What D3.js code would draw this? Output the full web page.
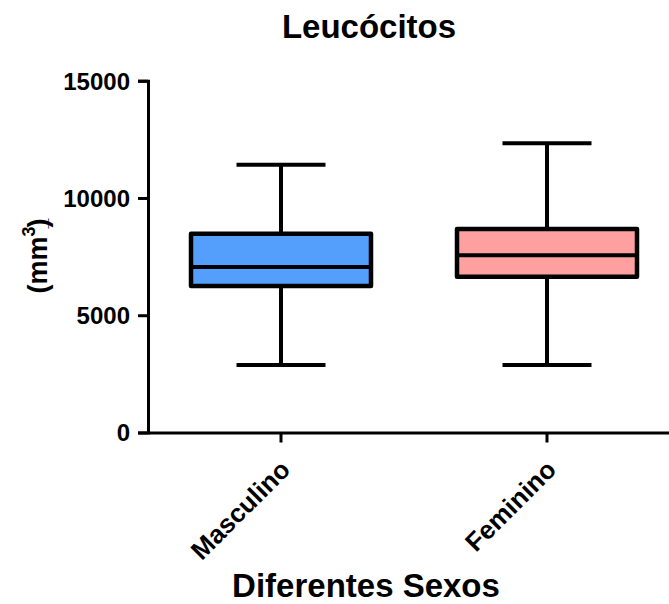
<!DOCTYPE html>
<html>
<head>
<meta charset="utf-8">
<script src="https://cdn.jsdelivr.net/npm/d3@7"></script>
<style>
  body { margin: 0; background: #fff; }
  text { font-family: "Liberation Sans", Arial, sans-serif; font-weight: bold; fill: #000; }
</style>
</head>
<body>
<div id="chart"></div>
<script>
// box plot data (min, q1, median, q3, max)
const categories = ['Masculino', 'Feminino'];
const minVals = [2880, 2880];
const q1Vals = [6250, 6640];
const medianVals = [7060, 7560];
const q3Vals = [8470, 8680];
const maxVals = [11420, 12330];
const fills = ['#549ffb', '#ffa0a0'];
const yTicks = [0, 5000, 10000, 15000];

const w = 669, h = 604;
const margin = {top: 81, left: 148, bottom: 171};

const svg = d3.select('#chart').append('svg')
  .attr('width', w)
  .attr('height', h);

const x = d3.scaleBand()
  .domain(categories)
  .range([margin.left, margin.left + 532])
  .padding(0);

const y = d3.scaleLinear()
  .domain([0, 15000])
  .range([432.5, 80.7]);

// title
svg.append('text')
  .attr('x', 369)
  .attr('y', 38)
  .attr('text-anchor', 'middle')
  .style('font-size', '33px')
  .text('Leucócitos');

// boxes
const boxW = 180, capW = 89;
const boxes = svg.append('g').selectAll('g')
  .data(categories)
  .enter().append('g');

boxes.each(function(c, i) {
  const g = d3.select(this);
  const cx = x(c) + x.bandwidth() / 2;
  // whiskers
  g.append('line')
    .attr('x1', cx).attr('x2', cx)
    .attr('y1', y(maxVals[i])).attr('y2', y(q3Vals[i]))
    .attr('stroke', '#000').attr('stroke-width', 4);
  g.append('line')
    .attr('x1', cx).attr('x2', cx)
    .attr('y1', y(q1Vals[i])).attr('y2', y(minVals[i]))
    .attr('stroke', '#000').attr('stroke-width', 4);
  // caps
  [maxVals[i], minVals[i]].forEach(v => {
    g.append('line')
      .attr('x1', cx - capW / 2).attr('x2', cx + capW / 2)
      .attr('y1', y(v)).attr('y2', y(v))
      .attr('stroke', '#000').attr('stroke-width', 4);
  });
  // box
  g.append('rect')
    .attr('x', cx - boxW / 2)
    .attr('y', y(q3Vals[i]))
    .attr('width', boxW)
    .attr('height', y(q1Vals[i]) - y(q3Vals[i]))
    .attr('fill', fills[i])
    .attr('stroke', '#000')
    .attr('stroke-width', 4.5)
    .attr('stroke-linejoin', 'round');
  // median
  g.append('line')
    .attr('x1', cx - boxW / 2).attr('x2', cx + boxW / 2)
    .attr('y1', y(medianVals[i])).attr('y2', y(medianVals[i]))
    .attr('stroke', '#000').attr('stroke-width', 4);
});

// y axis
const yAxis = svg.append('g')
  .attr('transform', 'translate(' + margin.left + ',0)')
  .call(d3.axisLeft(y).tickValues(yTicks).tickSize(10).tickPadding(8).tickFormat(d3.format('d')));
yAxis.select('.domain').attr('stroke-width', 3);
yAxis.selectAll('.tick line').attr('stroke-width', 3);
yAxis.selectAll('.tick text')
  .style('font-family', '"Liberation Sans", Arial, sans-serif')
  .style('font-weight', 'bold')
  .style('font-size', '24px')
  .attr('dy', '0.35em');

// x axis
const xAxis = svg.append('g')
  .attr('transform', 'translate(0,' + y(0) + ')')
  .call(d3.axisBottom(x).tickSize(10).tickSizeOuter(0).tickPadding(8));
xAxis.select('.domain').attr('stroke-width', 3);
xAxis.selectAll('.tick line').attr('stroke-width', 3);
xAxis.selectAll('.tick text')
  .style('font-family', '"Liberation Sans", Arial, sans-serif')
  .style('font-weight', 'bold')
  .style('font-size', '26px')
  .attr('text-anchor', 'end')
  .attr('dy', null)
  .attr('transform', 'translate(-2,26) rotate(-45)');

// axis titles
svg.append('text')
  .attr('x', 366)
  .attr('y', 597)
  .attr('text-anchor', 'middle')
  .style('font-size', '33px')
  .text('Diferentes Sexos');

const yLab = svg.append('text')
  .attr('transform', 'translate(47,256) rotate(-90)')
  .attr('text-anchor', 'middle')
  .style('font-size', '27px');
yLab.append('tspan').text('(mm');
yLab.append('tspan').attr('dy', -12).style('font-size', '18px').text('3');
yLab.append('tspan').attr('dy', 12).attr('dx', -2).style('font-size', '18px').text('_');
yLab.append('tspan').attr('dx', -9).text(')');
</script>
</body>
</html>
